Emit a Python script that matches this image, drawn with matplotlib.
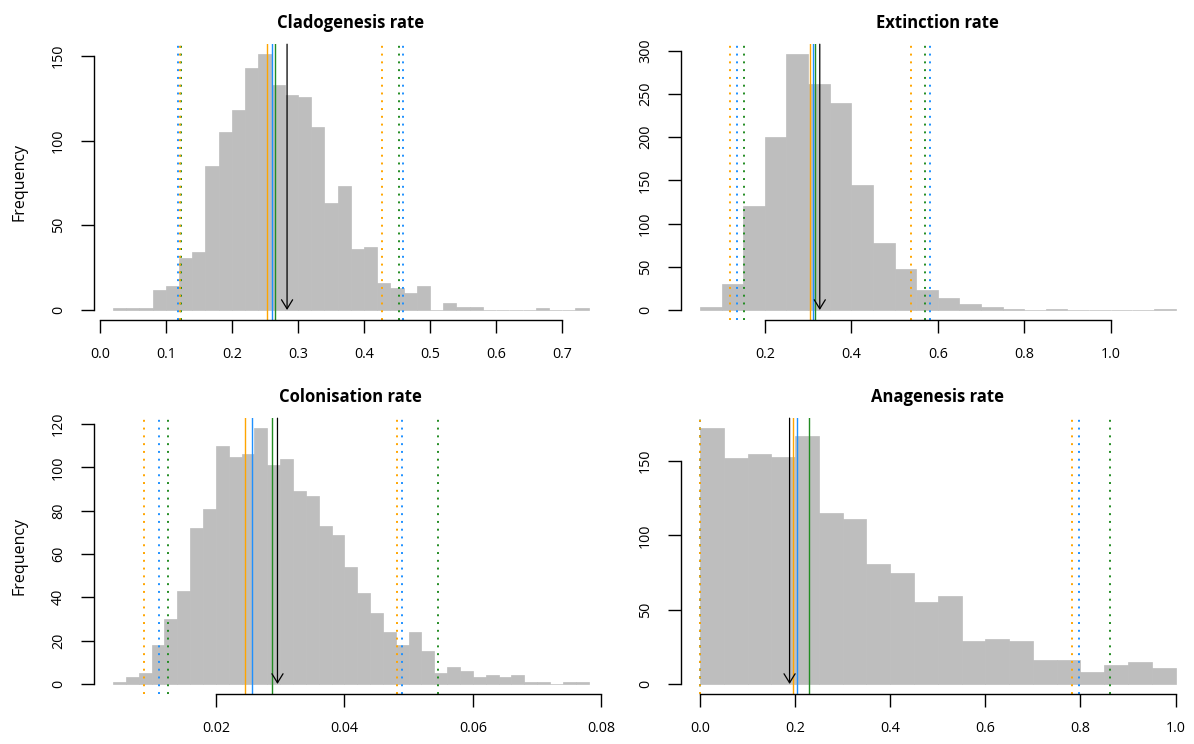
import numpy as np
import matplotlib.pyplot as plt

plt.rcParams['font.family'] = ['Open Sans', 'DejaVu Sans']

# histogram counts (bins of equal width starting at *_start)
clado_start, clado_width = 0.02, 0.02
clado_counts = [1, 1, 1, 12, 14, 31, 34, 85, 105, 118, 143, 151, 133, 127, 126, 108, 63, 73,
                36, 37, 16, 13, 10, 14, 0, 4, 2, 2, 0, 0, 0, 0, 1, 0, 0, 1]

ext_start, ext_width = 0.05, 0.05
ext_counts = [3, 30, 121, 200, 296, 262, 240, 145, 78, 47, 23, 14, 7, 3, 1, 0, 1, 0, 0, 0, 0, 1]

col_start, col_width = 0.004, 0.002
col_counts = [1, 3, 5, 18, 30, 43, 72, 81, 110, 105, 106, 118, 101, 104, 89, 87, 73, 69, 54,
              42, 33, 24, 18, 24, 15, 5, 8, 6, 3, 4, 3, 4, 1, 1, 0, 1, 1]

ana_start, ana_width = 0.0, 0.05
ana_counts = [172, 152, 155, 153, 167, 115, 111, 81, 75, 55, 59, 29, 30, 29, 16, 16, 8, 13, 15, 11]

# reference lines: (orange, blue, green) lower bound, estimate, upper bound; true value
clado_lo = [0.121, 0.119, 0.123]
clado_mid = [0.2527, 0.2608, 0.2648]
clado_hi = [0.4277, 0.459, 0.4529]
clado_true = 0.2835

ext_lo = [0.1192, 0.136, 0.152]
ext_mid = [0.304, 0.3123, 0.317]
ext_hi = [0.5386, 0.581, 0.570]
ext_true = 0.327

col_lo = [0.00887, 0.0112, 0.0125]
col_mid = [0.02451, 0.0256, 0.02876]
col_hi = [0.04824, 0.0490, 0.05456]
col_true = 0.02959

ana_lo = [0.0, 0.0, 0.0]
ana_mid = [0.1946, 0.2036, 0.2296]
ana_hi = [0.7823, 0.797, 0.8614]
ana_true = 0.1883

clado_xticks = [0.0, 0.1, 0.2, 0.3, 0.4, 0.5, 0.6, 0.7]
ext_xticks = [0.2, 0.4, 0.6, 0.8, 1.0]
col_xticks = [0.02, 0.04, 0.06, 0.08]
ana_xticks = [0.0, 0.2, 0.4, 0.6, 0.8, 1.0]

clado_yticks = [0, 50, 100, 150]
ext_yticks = [0, 50, 100, 150, 200, 250, 300]
col_yticks = [0, 20, 40, 60, 80, 100, 120]
ana_yticks = [0, 50, 100, 150]

GRAY = '#bebebe'
LINE_COLORS = ['#FFA500', '#1E90FF', '#228B22']


def draw_panel(ax, title, start, width, counts, lo, mid, hi, true_val,
               xticks, xfmt, yticks, ylabel=None):
    edges = start + width * np.arange(len(counts) + 1)
    ax.bar(edges[:-1], counts, width=width, align='edge', color=GRAY,
           edgecolor=GRAY, linewidth=0.5)
    span = edges[-1] - edges[0]
    ax.set_xlim(edges[0] - 0.04 * span, edges[-1] + 0.04 * span)
    top = max(counts)
    ax.set_ylim(-0.04 * top, 1.04 * top)

    # green first, orange last (on top)
    for vals, solid in ((lo, False), (mid, True), (hi, False)):
        for v, c in list(zip(vals, LINE_COLORS))[::-1]:
            if solid:
                ax.axvline(v, color=c, lw=1.0)
            else:
                ax.axvline(v, color=c, lw=1.4, linestyle=(0, (1, 3)))

    ax.annotate('', xy=(true_val, 0), xycoords='data',
                xytext=(true_val, 1), textcoords=ax.get_xaxis_transform(),
                arrowprops=dict(arrowstyle='->,head_length=0.65,head_width=0.4',
                                color='black', lw=0.9, shrinkA=0, shrinkB=0))

    ax.set_xticks(xticks)
    ax.set_xticklabels([xfmt.format(t) for t in xticks])
    ax.set_yticks(yticks)
    ax.set_yticklabels([str(t) for t in yticks], rotation=90, va='center')
    for s in ('top', 'right'):
        ax.spines[s].set_visible(False)
    ax.spines['bottom'].set_bounds(xticks[0], xticks[-1])
    ax.spines['left'].set_bounds(yticks[0], yticks[-1])
    for s in ('bottom', 'left'):
        ax.spines[s].set_linewidth(1.0)
    ax.tick_params(axis='both', direction='out', length=9.2, width=1.0,
                   labelsize=10.3, color='black')
    ax.tick_params(axis='x', pad=10)
    ax.tick_params(axis='y', pad=11)
    ax.set_title(title, fontsize=12, fontweight='bold', pad=12)
    if ylabel:
        ax.set_ylabel(ylabel, fontsize=11.5)
        ax.yaxis.set_label_coords(-0.146, 0.5)
        ax.yaxis.label.set_va('center')


fig = plt.figure(figsize=(11.94, 7.44), dpi=100)
W, H = 1194.0, 744.0
aw = 513.6 / W
ah = 276.0 / H
ax1 = fig.add_axes([94 / W, (H - 320.2) / H, aw, ah])
ax2 = fig.add_axes([681 / W, (H - 320.2) / H, aw, ah])
ax3 = fig.add_axes([94 / W, (H - 694.2) / H, aw, ah])
ax4 = fig.add_axes([681 / W, (H - 694.2) / H, aw, ah])

draw_panel(ax1, 'Cladogenesis rate', clado_start, clado_width, clado_counts,
           clado_lo, clado_mid, clado_hi, clado_true,
           clado_xticks, '{:.1f}', clado_yticks, 'Frequency')
draw_panel(ax2, 'Extinction rate', ext_start, ext_width, ext_counts,
           ext_lo, ext_mid, ext_hi, ext_true,
           ext_xticks, '{:.1f}', ext_yticks)
draw_panel(ax3, 'Colonisation rate', col_start, col_width, col_counts,
           col_lo, col_mid, col_hi, col_true,
           col_xticks, '{:.2f}', col_yticks, 'Frequency')
draw_panel(ax4, 'Anagenesis rate', ana_start, ana_width, ana_counts,
           ana_lo, ana_mid, ana_hi, ana_true,
           ana_xticks, '{:.1f}', ana_yticks)

fig.savefig('out.png', dpi=100)
